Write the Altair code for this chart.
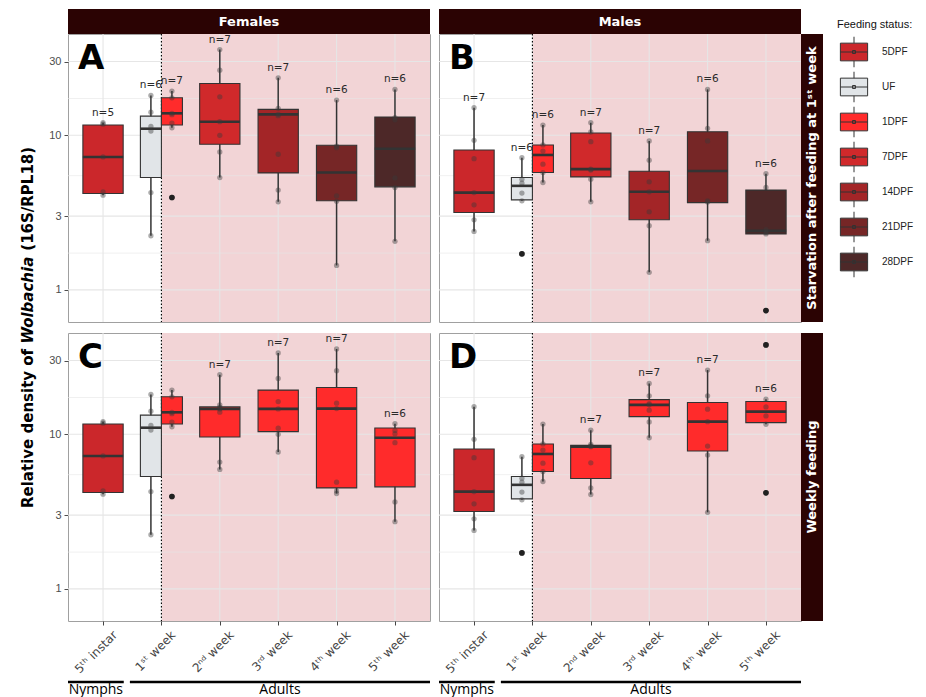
import altair as alt
import pandas as pd

# ---------------- data ----------------
CATEGORIES = ["5ᵗʰ instar", "1ˢᵗ week", "2ⁿᵈ week", "3ʳᵈ week", "4ᵗʰ week", "5ᵗʰ week"]
STATUS = ["5DPF", "UF", "1DPF", "7DPF", "14DPF", "21DPF", "28DPF"]
STATUS_COLORS = ["#cb272b", "#e1e5e8", "#ff2b2b", "#d0292b", "#a32527", "#762626", "#4d2828"]
Y_TICKS = [1, 3, 10, 30]
Y_MINOR = [1.73, 5.48, 17.3]
STAGES = ["Nymphs", "Adults"]
SEXES = ["Females", "Males"]
REGIMES = ["Starvation after feeding at 1ˢᵗ week", "Weekly feeding"]
TITLE_PARTS = ["Relative density of", "Wolbachia", "(16S/RPL18)"]

# Panel A : females, starvation after feeding at 1st week
A_status = ["5DPF", "UF", "1DPF", "7DPF", "14DPF", "21DPF", "28DPF"]
A_stage = [0, 1, 1, 2, 3, 4, 5]
A_q1 = [4.20, 5.33, 11.65, 8.75, 5.71, 3.77, 4.64]
A_med = [7.24, 11.03, 13.87, 12.24, 13.66, 5.74, 8.19]
A_q3 = [11.65, 13.30, 17.48, 21.65, 14.72, 8.62, 13.13]
A_lo = [4.10, 2.24, 11.19, 5.33, 3.71, 1.44, 2.06]
A_hi = [12.06, 18.10, 19.31, 35.87, 23.53, 16.89, 19.81]
A_n = [5, 6, 7, 7, 7, 6, 6]
A_points = [[12.06, 11.8, 7.24, 4.3, 4.10],
            [18.1, 14.1, 11.4, 10.66, 4.26, 2.24],
            [19.31, 17.48, 13.87, 13.6, 12.0, 11.19, 3.96],
            [35.87, 26.38, 17.74, 12.24, 10.0, 7.80, 5.33],
            [23.53, 14.94, 13.66, 13.4, 7.54, 4.42, 3.71],
            [16.89, 8.5, 8.32, 4.06, 3.74, 1.44],
            [19.81, 13.0, 12.6, 5.3, 4.59, 2.06]]
A_outliers = [[], [], [3.96], [], [], [], []]

# Panel B : males, starvation after feeding at 1st week
B_status = ["5DPF", "UF", "1DPF", "7DPF", "14DPF", "21DPF", "28DPF"]
B_stage = [0, 1, 1, 2, 3, 4, 5]
B_q1 = [3.17, 3.82, 5.74, 5.38, 2.84, 3.67, 2.30]
B_med = [4.26, 4.71, 7.46, 6.04, 4.31, 5.88, 2.41]
B_q3 = [8.04, 5.33, 8.66, 10.35, 5.86, 10.55, 4.42]
B_lo = [2.39, 3.77, 4.95, 3.71, 1.30, 2.08, 2.30]
B_hi = [15.07, 7.17, 11.65, 12.06, 9.19, 19.81, 5.65]
B_n = [7, 6, 6, 7, 7, 6, 6]
B_points = [[15.07, 9.28, 7.06, 4.26, 3.55, 2.84, 2.39],
            [7.17, 5.20, 4.9, 4.23, 3.77, 1.71],
            [11.65, 8.66, 7.9, 6.50, 5.74, 4.95],
            [12.06, 10.5, 9.09, 6.04, 5.96, 5.20, 3.71],
            [9.19, 6.90, 5.00, 4.31, 3.20, 2.60, 1.30],
            [19.81, 11.10, 9.19, 3.77, 3.70, 2.08],
            [5.65, 4.6, 2.45, 2.35, 2.30, 0.735]]
B_outliers = [[], [1.71], [], [], [], [], [0.735]]

# Panel C : females, weekly feeding
C_status = ["5DPF", "UF", "1DPF", "1DPF", "1DPF", "1DPF", "1DPF"]
C_stage = [0, 1, 1, 2, 3, 4, 5]
C_q1 = [4.20, 5.33, 11.65, 9.60, 10.40, 4.50, 4.57]
C_med = [7.24, 11.03, 13.87, 14.60, 14.60, 14.66, 9.50]
C_q3 = [11.65, 13.30, 17.48, 15.04, 19.31, 20.07, 10.99]
C_lo = [4.10, 2.24, 11.19, 5.93, 7.68, 4.14, 2.72]
C_hi = [12.06, 18.10, 19.31, 24.27, 33.57, 35.63, 11.72]
C_n = [0, 0, 0, 7, 7, 7, 6]
C_points = [[12.06, 11.8, 7.24, 4.3, 4.10],
            [18.1, 14.1, 11.4, 10.66, 4.26, 2.24],
            [19.31, 17.48, 13.87, 13.6, 12.0, 11.19, 3.96],
            [24.27, 15.5, 15.0, 14.6, 13.9, 6.61, 5.93],
            [33.57, 22.96, 16.28, 14.60, 10.94, 10.0, 7.68],
            [35.63, 25.76, 15.90, 14.66, 4.90, 4.30, 4.14],
            [11.72, 10.6, 10.09, 8.82, 3.65, 2.72]]
C_outliers = [[], [], [3.96], [], [], [], []]

# Panel D : males, weekly feeding
D_status = ["5DPF", "UF", "1DPF", "1DPF", "1DPF", "1DPF", "1DPF"]
D_stage = [0, 1, 1, 2, 3, 4, 5]
D_q1 = [3.17, 3.82, 5.74, 5.18, 13.01, 7.79, 11.89]
D_med = [4.26, 4.71, 7.46, 8.31, 15.50, 12.07, 14.02]
D_q3 = [8.04, 5.33, 8.66, 8.48, 16.77, 16.04, 16.28]
D_lo = [2.39, 3.77, 4.95, 4.08, 9.50, 3.13, 11.61]
D_hi = [15.07, 7.17, 11.65, 10.62, 21.31, 26.03, 16.88]
D_n = [0, 0, 0, 7, 7, 7, 6]
D_points = [[15.07, 9.28, 7.06, 4.26, 3.55, 2.84, 2.39],
            [7.17, 5.20, 4.9, 4.23, 3.77, 1.71],
            [11.65, 8.66, 7.9, 6.50, 5.74, 4.95],
            [10.62, 8.6, 8.4, 8.31, 6.54, 4.5, 4.08],
            [21.31, 17.73, 15.80, 15.50, 14.31, 12.02, 9.50],
            [26.03, 17.73, 14.53, 12.07, 8.39, 7.34, 3.13],
            [37.84, 16.88, 15.04, 13.15, 11.61, 4.18]]
D_outliers = [[], [1.71], [], [], [], [], [37.84, 4.18]]

# ---------------- layout / style ----------------
W, H = 362, 288
XDOM = [-0.6, 5.6]
YDOM = [0.62, 45.2]
BOX_W = 0.69
DODGE_W = 0.36
PINK = "#f2d4d6"
GRID = "#e6e6e6"
STRIP = "#2b0303"
INK = "#333333"

LABEL_EXPR = "[" + ",".join("'" + c + "'" for c in CATEGORIES) + "][datum.value]"

X_AXIS = alt.Axis(values=list(range(len(CATEGORIES))), labelExpr=LABEL_EXPR, labelAngle=315,
                  labelAlign="right", labelBaseline="top", labelFont="DejaVu Sans",
                  labelFontSize=12, labelColor="#444444", labelPadding=4, labelOffset=8,
                  labelOverlap=False, labelFlush=False, labelBound=False, tickSize=4,
                  tickColor="#444444", tickWidth=1, domain=False, grid=False, title=None)
Y_AXIS = alt.Axis(values=Y_TICKS, format="~g", labelFont="Liberation Sans", labelFontSize=11,
                  labelColor="#4d4d4d", labelPadding=3, labelFlush=False, labelOverlap=False,
                  tickSize=4, tickColor="#4d4d4d", domain=False, grid=False, title=None)

BOX_GLYPH = ("M-0.83,-0.54H0.83V0.54H-0.83Z M0,-0.54V-0.93 M0,0.54V0.93 "
             "M-0.83,0H0.83 M-0.09,-0.09H0.09V0.09H-0.09Z")
LEG = alt.Legend(title="Feeding status:", orient="none", legendX=769, legendY=-15,
                 direction="vertical", padding=0, titleFont="Liberation Sans", titleFontSize=11,
                 titleFontWeight="normal", titleColor="#111111", titlePadding=5,
                 labelFont="Liberation Sans", labelFontSize=10, labelColor="#222222",
                 labelOffset=11, symbolType=BOX_GLYPH, symbolSize=1076,
                 symbolStrokeColor=INK, symbolStrokeWidth=1, rowPadding=-6)


def box_frame(status, stage, q1, med, q3, lo, hi, n):
    rows = []
    for i, c in enumerate(stage):
        same = [j for j, cc in enumerate(stage) if cc == c]
        if len(same) > 1:
            k = same.index(i)
            off = (k - (len(same) - 1) / 2) * DODGE_W
            w = DODGE_W
        else:
            off, w = 0.0, BOX_W
        pos = c + off
        rows.append(dict(status=status[i], pos=pos, xl=pos - w / 2, xr=pos + w / 2,
                         q1=q1[i], med=med[i], q3=q3[i], lo=lo[i], hi=hi[i], n=n[i],
                         lab="n=%d" % n[i] if n[i] else ""))
    return pd.DataFrame(rows)


def point_frame(bx, values):
    rows = []
    for i, vals in enumerate(values):
        for v in vals:
            rows.append(dict(pos=bx.loc[i, "pos"], v=v))
    return pd.DataFrame(rows, columns=["pos", "v"])


def panel(status, stage, q1, med, q3, lo, hi, n, points, outliers, letter,
          top=None, right=None, left=False, bottom=False, ytitle=False):
    bx = box_frame(status, stage, q1, med, q3, lo, hi, n)
    pts = point_frame(bx, points)
    outs = point_frame(bx, outliers)
    xs = alt.Scale(domain=XDOM, nice=False, zero=False)
    ys = alt.Scale(type="log", domain=YDOM, nice=False)
    xax = X_AXIS if bottom else None
    yax = Y_AXIS if left else None

    def X(f):
        return alt.X(f, type="quantitative", scale=xs, axis=xax)

    def Y(f):
        return alt.Y(f, type="quantitative", scale=ys, axis=yax)

    L = []
    # adult period shading
    L.append(alt.Chart(pd.DataFrame({"a": [1.0], "b": [XDOM[1]]})).mark_rect(color=PINK)
             .encode(x=X("a"), x2="b", y=alt.value(0), y2=alt.value(H)))
    # grid
    L.append(alt.Chart(pd.DataFrame({"v": Y_MINOR})).mark_rule(color=GRID, strokeWidth=0.6)
             .encode(y=Y("v"), x=alt.value(0), x2=alt.value(W)))
    L.append(alt.Chart(pd.DataFrame({"v": Y_TICKS})).mark_rule(color=GRID, strokeWidth=1.1)
             .encode(y=Y("v"), x=alt.value(0), x2=alt.value(W)))
    L.append(alt.Chart(pd.DataFrame({"c": list(range(len(CATEGORIES)))}))
             .mark_rule(color=GRID, strokeWidth=1.1)
             .encode(x=X("c"), y=alt.value(0), y2=alt.value(H)))
    # dotted line at start of adult life
    L.append(alt.Chart(pd.DataFrame({"c": [1]})).mark_rule(color="black", strokeWidth=1.1,
                                                            strokeDash=[1.5, 2])
             .encode(x=X("c"), y=alt.value(0), y2=alt.value(H)))
    # boxplots
    L.append(alt.Chart(bx).mark_rule(color=INK, strokeWidth=1.5)
             .encode(x=X("pos"), y=Y("lo"), y2="hi"))
    L.append(alt.Chart(bx).mark_rect(stroke=INK, strokeWidth=1.1, opacity=1)
             .encode(x=X("xl"), x2="xr", y=Y("q1"), y2="q3",
                     color=alt.Color("status:N", scale=alt.Scale(domain=STATUS, range=STATUS_COLORS),
                                     legend=LEG)))
    L.append(alt.Chart(bx).mark_rule(color=INK, strokeWidth=2.6)
             .encode(x=X("xl"), x2="xr", y=Y("med")))
    if len(outs):
        L.append(alt.Chart(outs).mark_circle(color="#111111", opacity=1, size=32)
                 .encode(x=X("pos"), y=Y("v")))
    L.append(alt.Chart(pts).mark_circle(color="#3a3a3a", opacity=0.42, size=28)
             .encode(x=X("pos"), y=Y("v")))
    lab = bx[bx["n"] > 0]
    if len(lab):
        L.append(alt.Chart(lab).mark_text(dy=-10, font="DejaVu Sans", fontSize=10.5, color="#2a2a2a")
                 .encode(x=X("pos"), y=Y("hi"), text="lab:N"))
    # panel letter
    L.append(alt.Chart(pd.DataFrame({"t": [letter]}))
             .mark_text(align="left", baseline="alphabetic", font="DejaVu Sans", fontWeight="bold",
                        fontSize=34, color="black")
             .encode(x=alt.value(10), y=alt.value(35), text="t:N"))
    # strips
    if top:
        sd = pd.DataFrame({"t": [top]})
        L.append(alt.Chart(sd).mark_rect(color=STRIP)
                 .encode(x=alt.value(0), x2=alt.value(W), y=alt.value(-25), y2=alt.value(0)))
        L.append(alt.Chart(sd).mark_text(font="DejaVu Sans", fontWeight="bold", fontSize=13,
                                         color="white", baseline="middle")
                 .encode(x=alt.value(W / 2), y=alt.value(-12.5), text="t:N"))
    if right:
        sd = pd.DataFrame({"t": [right]})
        L.append(alt.Chart(sd).mark_rect(color=STRIP)
                 .encode(x=alt.value(W), x2=alt.value(W + 22), y=alt.value(0), y2=alt.value(H)))
        L.append(alt.Chart(sd).mark_text(font="DejaVu Sans", fontWeight="bold", fontSize=13,
                                         color="white", baseline="middle", angle=270)
                 .encode(x=alt.value(W + 11), y=alt.value(H / 2), text="t:N"))
    # life-stage brackets
    if bottom:
        st = pd.DataFrame({"t": STAGES, "a": [XDOM[0], 0.46], "b": [0.355, XDOM[1]]})
        st["m"] = (st["a"] + st["b"]) / 2
        L.append(alt.Chart(st).mark_rule(color="black", strokeWidth=2.6)
                 .encode(x=X("a"), x2="b", y=alt.value(H + 61)))
        L.append(alt.Chart(st).mark_text(font="Open Sans", fontSize=14, color="black",
                                         baseline="alphabetic")
                 .encode(x=X("m"), y=alt.value(H + 73), text="t:N"))
    # y title (spans both rows) + left pin
    if ytitle:
        starts = [474, 309.6, 216.7]
        styles = ["normal", "italic", "normal"]
        for part, y0, sty in zip(TITLE_PARTS, starts, styles):
            L.append(alt.Chart(pd.DataFrame({"t": [part]}))
                     .mark_text(font="DejaVu Sans", fontWeight="bold", fontStyle=sty, fontSize=15,
                                color="black", angle=270, align="left", baseline="alphabetic")
                     .encode(x=alt.value(-35.5), y=alt.value(y0), text="t:N"))
        L.append(alt.Chart(pd.DataFrame({"k": [0]})).mark_rule(color="white", strokeWidth=1)
                 .encode(x=alt.value(-59), x2=alt.value(-58), y=alt.value(0), y2=alt.value(1)))
    return alt.layer(*L).properties(width=W, height=H)


pA = panel(A_status, A_stage, A_q1, A_med, A_q3, A_lo, A_hi, A_n, A_points, A_outliers, "A",
           top=SEXES[0], left=True, ytitle=True)
pB = panel(B_status, B_stage, B_q1, B_med, B_q3, B_lo, B_hi, B_n, B_points, B_outliers, "B",
           top=SEXES[1], right=REGIMES[0])
pC = panel(C_status, C_stage, C_q1, C_med, C_q3, C_lo, C_hi, C_n, C_points, C_outliers, "C",
           left=True, bottom=True)
pD = panel(D_status, D_stage, D_q1, D_med, D_q3, D_lo, D_hi, D_n, D_points, D_outliers, "D",
           right=REGIMES[1], bottom=True)

chart = (alt.concat(pA, pB, pC, pD, columns=2, spacing={"row": 11, "column": 9}, bounds="flush")
         .properties(padding=0)
         .resolve_scale(color="shared")
         .configure_view(stroke="#a0a0a0", strokeWidth=1))

chart.save("out.html", embed_options={"renderer": "svg", "actions": False})
